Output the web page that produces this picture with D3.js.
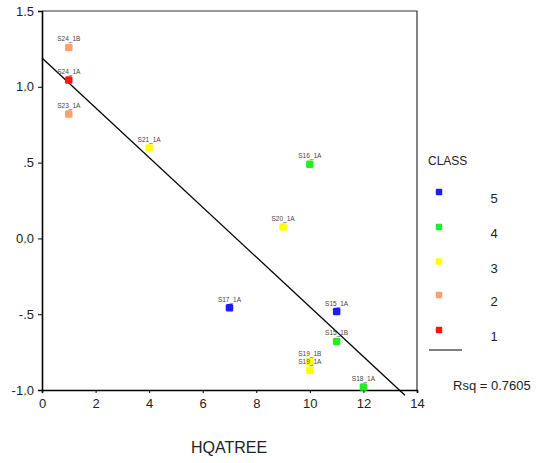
<!DOCTYPE html>
<html>
<head>
<meta charset="utf-8">
<script src="https://cdn.jsdelivr.net/npm/d3@7"></script>
<style>
  html, body { margin: 0; padding: 0; background: #fff; }
  svg { display: block; font-family: "Liberation Sans", Arial, sans-serif; }
</style>
</head>
<body>
<svg id="chart" width="537" height="463"></svg>
<script>
// Sample scores plotted against HQATREE, coloured by CLASS
const sampleNames = ["S24_1B", "S24_1A", "S23_1A", "S21_1A", "S16_1A", "S20_1A",
                     "S17_1A", "S15_1A", "S15_1B", "S19_1B", "S19_1A", "S18_1A"];
const hqatree     = [1, 1, 1, 4, 10, 9, 7, 11, 11, 10, 10, 12];
const scores      = [1.26, 1.045, 0.82, 0.596, 0.4887, 0.075,
                     -0.457, -0.483, -0.68, -0.814, -0.87, -0.98];
const classes     = [2, 1, 2, 3, 4, 3, 5, 5, 4, 3, 3, 4];

const legendClasses = [5, 4, 3, 2, 1];
const classColors   = ["#1c1cff", "#22ee22", "#ffff00", "#ff9f70", "#ff1414"]; // for 5..1

const xTicks = [0, 2, 4, 6, 8, 10, 12, 14];
const yTicks = [1.5, 1.0, 0.5, 0.0, -0.5, -1.0];
const yTickLabels = ["1.5", "1.0", ".5", "0.0", "-.5", "-1.0"];

const svg = d3.select("#chart");
const plotLeft = 42, plotRight = 417, plotTop = 11, plotBottom = 390;

const x = d3.scaleLinear().domain([0, 14]).range([plotLeft, plotRight]);
const y = d3.scaleLinear().domain([-1, 1.5]).range([plotBottom, plotTop]);
const color = d3.scaleOrdinal().domain(legendClasses).range(classColors);

// Plot frame (top and right edges)
svg.append("path")
  .attr("d", `M${plotLeft},${plotTop}H${plotRight}V${plotBottom}`)
  .attr("fill", "none").attr("stroke", "#333").attr("stroke-width", 1.2);

// Axes
const xAxis = svg.append("g").attr("transform", `translate(0,${plotBottom})`)
  .call(d3.axisBottom(x).tickValues(xTicks).tickSize(3).tickPadding(6).tickFormat(d3.format("d")));
const yAxis = svg.append("g").attr("transform", `translate(${plotLeft},0)`)
  .call(d3.axisLeft(y).tickValues(yTicks).tickSize(4).tickPadding(4)
        .tickFormat((d, i) => yTickLabels[i]));

[xAxis, yAxis].forEach(g => {
  g.select(".domain").attr("stroke", "#000").attr("stroke-width", 1.6);
  g.selectAll(".tick line").attr("stroke", "#000");
  g.selectAll(".tick text").attr("fill", "#222").style("font-size", "13px")
    .style("font-family", "'Liberation Sans', Arial, sans-serif");
});

svg.append("text")
  .attr("x", 229).attr("y", 453)
  .attr("text-anchor", "middle")
  .style("font-size", "16px").attr("fill", "#222")
  .text("HQATREE");

// Least-squares fit line
const n = hqatree.length;
const mx = d3.mean(hqatree), my = d3.mean(scores);
let sxy = 0, sxx = 0, syy = 0;
for (let i = 0; i < n; i++) {
  sxy += (hqatree[i] - mx) * (scores[i] - my);
  sxx += (hqatree[i] - mx) ** 2;
  syy += (scores[i] - my) ** 2;
}
const slope = sxy / sxx;
const intercept = my - slope * mx;
const rsq = (sxy * sxy) / (sxx * syy);
const xEnd = 13.55;

svg.append("line")
  .attr("x1", x(0)).attr("y1", y(intercept))
  .attr("x2", x(xEnd)).attr("y2", y(intercept + slope * xEnd))
  .attr("stroke", "#000").attr("stroke-width", 1.3);

// Points
const pts = svg.append("g");
const ms = 7.5;
d3.range(n).forEach(i => {
  const cx = x(hqatree[i]), cy = y(scores[i]);
  pts.append("rect")
    .attr("x", cx - ms / 2).attr("y", cy - ms / 2)
    .attr("width", ms).attr("height", ms).attr("rx", 1.5)
    .attr("fill", color(classes[i]));
  pts.append("text")
    .attr("x", cx).attr("y", cy - 6)
    .attr("text-anchor", "middle")
    .style("font-size", "6.5px").attr("fill", "#444")
    .text(sampleNames[i]);
});

// Legend
svg.append("text").attr("x", 428).attr("y", 165)
  .style("font-size", "12px").attr("fill", "#222").text("CLASS");

const legendY = [192, 227, 261.5, 295, 330];
legendClasses.forEach((c, i) => {
  svg.append("rect")
    .attr("x", 439 - 3.25).attr("y", legendY[i] - 3.25)
    .attr("width", 6.5).attr("height", 6.5).attr("rx", 1.2)
    .attr("fill", color(c));
  svg.append("text")
    .attr("x", 494).attr("y", legendY[i] + 11)
    .attr("text-anchor", "middle")
    .style("font-size", "13px").attr("fill", "#222")
    .text(c);
});

svg.append("line")
  .attr("x1", 429).attr("x2", 462).attr("y1", 350).attr("y2", 350)
  .attr("stroke", "#000").attr("stroke-width", 1.2);

svg.append("text").attr("x", 453).attr("y", 390)
  .style("font-size", "13px").attr("fill", "#222")
  .text("Rsq = " + rsq.toFixed(4));
</script>
</body>
</html>
